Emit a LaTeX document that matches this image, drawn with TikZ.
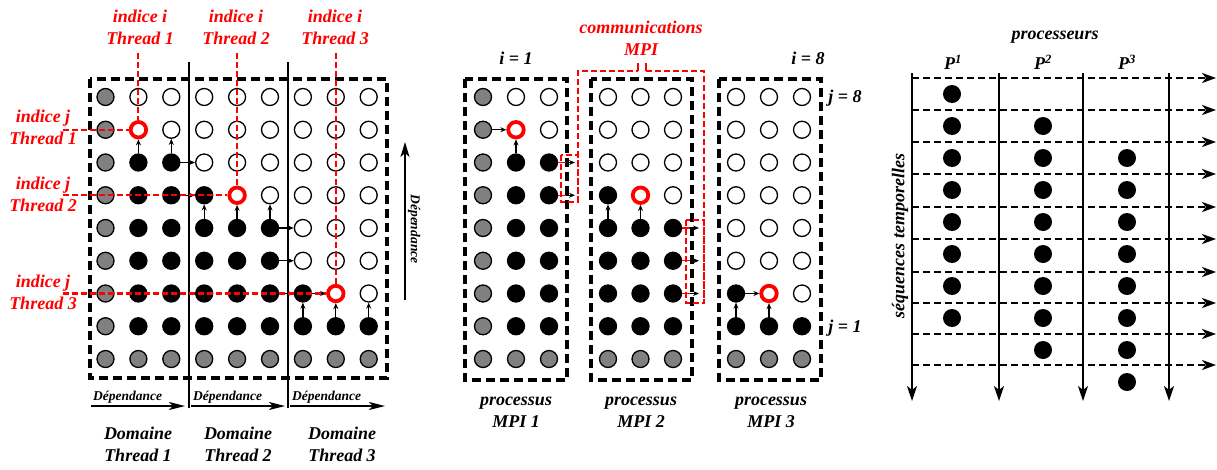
\documentclass[tikz,border=0pt]{standalone}
\usepackage{fontspec}
\setmainfont{Liberation Serif}
\usetikzlibrary{arrows.meta}
\definecolor{myred}{RGB}{255,0,0}
\definecolor{mygray}{RGB}{128,128,128}
\begin{document}
\begin{tikzpicture}[x=1pt,y=-1pt,
 cellbase/.style={circle,inner sep=0pt,minimum size=17pt,line width=1.3pt,draw=black},
 cellw/.style={cellbase,fill=white},
 cellb/.style={cellbase,fill=black},
 cellg/.style={cellbase,fill=mygray},
 cellr/.style={circle,inner sep=0pt,minimum size=15.5pt,line width=3.8pt,draw=myred,fill=white},
 pdot/.style={circle,fill=black,inner sep=0pt,minimum size=18pt},
 lbl/.style={font=\bfseries\itshape\fontsize{18}{22}\selectfont,align=center,inner sep=0pt},
 rlbl/.style={lbl,text=myred},
 smalllbl/.style={font=\bfseries\itshape\fontsize{13.5}{16}\selectfont,inner sep=0pt},
 dep/.style={-{Stealth[length=6pt,width=5pt]},line width=1.3pt},
 bigarrow/.style={-{Stealth[length=15pt,width=9pt,inset=4pt]},line width=1.6pt},
 domainbox/.style={dash pattern=on 9pt off 5pt,line width=4pt},
 reddash/.style={draw=myred,dash pattern=on 6pt off 3pt,line width=2.1pt},
 sepline/.style={line width=1.6pt},
 timeline/.style={dash pattern=on 7pt off 4pt,line width=2pt,-{Stealth[length=14pt,width=10pt,inset=4pt]}},
]
\useasboundingbox (0,0) rectangle (1217,469);

% ================= LEFT: threads =================
\draw[domainbox] (90,79) rectangle (387,378);
\coordinate (s1t) at (189,62); \coordinate (s1b) at (189,408);
\coordinate (s2t) at (288,62); \coordinate (s2b) at (288,408);
\draw[sepline] (s1t) -- (s1b);
\draw[sepline] (s2t) -- (s2b);

\foreach \row [count=\r] in {
 {g,w,w,w,w,w,w,w,w},
 {g,r,w,w,w,w,w,w,w},
 {g,b,b,w,w,w,w,w,w},
 {g,b,b,b,r,w,w,w,w},
 {g,b,b,b,b,b,w,w,w},
 {g,b,b,b,b,b,w,w,w},
 {g,b,b,b,b,b,b,r,w},
 {g,b,b,b,b,b,b,b,b},
 {g,g,g,g,g,g,g,g,g}}
 \foreach \s [count=\c] in \row
   \node[cell\s] (L-\c-\r) at ({105.5+32.9*(\c-1)},{97+32.75*(\r-1)}) {};

% dependency arrows
\draw[dep] (L-2-3) -- (L-2-2);
\draw[dep] (L-3-3) -- (L-3-2);
\draw[dep] (L-3-3) -- (L-4-3);
\draw[dep] (L-3-4) -- (L-4-4);
\draw[dep] (L-4-5) -- (L-4-4);
\draw[dep] (L-5-5) -- (L-5-4);
\draw[dep] (L-6-5) -- (L-6-4);
\draw[dep] (L-6-5) -- (L-7-5);
\draw[dep] (L-6-6) -- (L-7-6);
\draw[dep] (L-6-7) -- (L-7-7);
\draw[dep] (L-7-7) -- (L-8-7);
\draw[dep] (L-7-8) -- (L-7-7);
\draw[dep] (L-8-8) -- (L-8-7);
\draw[dep] (L-9-8) -- (L-9-7);

% labels i
\node[rlbl] (ti1) at (140,27.5) {indice i\\Thread 1};
\node[rlbl] (ti2) at (236,27.5) {indice i\\Thread 2};
\node[rlbl] (ti3) at (335,27.5) {indice i\\Thread 3};
\coordinate (ti1e) at (L-2-2 |- 0,53);
\coordinate (ti2e) at (L-5-4 |- 0,53);
\coordinate (ti3e) at (L-8-7 |- 0,53);
\draw[reddash] (ti1e) -- (L-2-2);
\draw[reddash] (ti2e) -- (L-5-4);
\draw[reddash] (ti3e) -- (L-8-7);

% labels j
\node[rlbl] (tj1) at (43,127) {indice j\\Thread 1};
\node[rlbl] (tj2) at (43,194.5) {indice j\\Thread 2};
\node[rlbl] (tj3) at (43,292.5) {indice j\\Thread 3};
\coordinate (tj1e) at (L-2-2 -| 63,0);
\coordinate (tj2e) at (L-5-4 -| 63,0);
\coordinate (tj3e) at (L-8-7 -| 63,0);
\draw[reddash] (tj1e) -- (L-2-2);
\draw[reddash] (tj2e) -- (L-5-4);
\draw[reddash] (tj3e) -- (L-8-7);

% vertical dependance
\coordinate (dv1) at (405,300); \coordinate (dv2) at (405,142);
\draw[bigarrow] (dv1) -- (dv2);
\node[smalllbl,rotate=-90] (dvl) at (414,229) {Dépendance};

% horizontal dependance
\foreach \xs/\xe [count=\i] in {91/185,191/285,290/385} {
  \coordinate (dh\i s) at (\xs,406); \coordinate (dh\i e) at (\xe,406);
  \draw[-{Stealth[length=16pt,width=8pt,inset=4pt]},line width=1.6pt] (dh\i s) -- (dh\i e);
  \node[smalllbl,anchor=west] (dhl\i) at (\xs+2,397) {Dépendance};
}
\node[lbl] (dom1) at (138,444.5) {Domaine\\Thread 1};
\node[lbl] (dom2) at (238,444.5) {Domaine\\Thread 2};
\node[lbl] (dom3) at (342,444.5) {Domaine\\Thread 3};

% ================= MIDDLE: MPI =================
\draw[domainbox] (465,79) rectangle (567,380);
\draw[domainbox] (591,79) rectangle (692,380);
\draw[domainbox] (719,79) rectangle (821,380);

\foreach \row [count=\r] in {
 {g,w,w},{g,r,w},{g,b,b},{g,b,b},{g,b,b},{g,b,b},{g,b,b},{g,b,b},{g,g,g}}
 \foreach \s [count=\c] in \row
   \node[cell\s] (Ma-\c-\r) at ({483+33*(\c-1)},{97+32.75*(\r-1)}) {};
\foreach \row [count=\r] in {
 {w,w,w},{w,w,w},{w,w,w},{b,r,w},{b,b,b},{b,b,b},{b,b,b},{b,b,b},{g,g,g}}
 \foreach \s [count=\c] in \row
   \node[cell\s] (Mb-\c-\r) at ({608+32.5*(\c-1)},{97+32.75*(\r-1)}) {};
\foreach \row [count=\r] in {
 {w,w,w},{w,w,w},{w,w,w},{w,w,w},{w,w,w},{w,w,w},{b,r,w},{b,b,b},{g,g,g}}
 \foreach \s [count=\c] in \row
   \node[cell\s] (Mc-\c-\r) at ({736+33*(\c-1)},{97+32.75*(\r-1)}) {};

\draw[dep] (Ma-1-2) -- (Ma-2-2);
\draw[dep] (Ma-2-3) -- (Ma-2-2);
\draw[dep] (Mb-1-5) -- (Mb-1-4);
\draw[dep] (Mb-2-5) -- (Mb-2-4);
\draw[dep] (Mc-1-7) -- (Mc-2-7);
\draw[dep] (Mc-1-8) -- (Mc-1-7);
\draw[dep] (Mc-2-8) -- (Mc-2-7);

% MPI communications
\foreach \r in {3,4} {
  \coordinate (ca\r) at (Ma-3-\r -| 566,0);
  \coordinate (cb\r) at (Ma-3-\r -| 575,0);
  \draw[myred,line width=1.4pt] (Ma-3-\r.east) -- (ca\r);
  \draw[dep] (ca\r) -- (cb\r);
}
\foreach \r in {5,6,7} {
  \coordinate (cc\r) at (Mb-3-\r -| 690,0);
  \coordinate (cd\r) at (Mb-3-\r -| 699,0);
  \draw[myred,line width=1.4pt] (Mb-3-\r.east) -- (cc\r);
  \draw[dep] (cc\r) -- (cd\r);
}
\coordinate (k1) at (561,155); \coordinate (k2) at (578,202);
\coordinate (k3) at (578,71);  \coordinate (k4) at (638,71); \coordinate (k5) at (638,63);
\coordinate (k6) at (646,63);  \coordinate (k7) at (646,71); \coordinate (k8) at (704,71);
\coordinate (k9) at (704,303); \coordinate (k10) at (686,220);
\draw[reddash,line width=1.7pt] (k1) rectangle (k2);
\draw[reddash,line width=1.7pt] (k2) -- (k3) -- (k4);
\draw[myred,line width=1.7pt] (k4) -- (k5);
\draw[myred,line width=1.7pt] (k6) -- (k7);
\draw[reddash,line width=1.7pt] (k7) -- (k8) -- (k9);
\draw[reddash,line width=1.7pt] (k10) rectangle (k9);

\node[rlbl] (comm) at (641,38.5) {communications\\MPI};
\node[lbl] (i1) at (516,58) {i = 1};
\node[lbl] (i8) at (808,58) {i = 8};
\node[lbl] (j8) at (845,98) {j = 8};
\node[lbl] (j1) at (845,328) {j = 1};
\node[lbl] (pm1) at (516,412.5) {processus\\MPI 1};
\node[lbl] (pm2) at (641,412.5) {processus\\MPI 2};
\node[lbl] (pm3) at (771,412.5) {processus\\MPI 3};

% ================= RIGHT: processors =================
\foreach \y [count=\i] in {78,110,142,174,207,239,272,303,334,365} {
  \coordinate (hs\i) at (912,\y); \coordinate (he\i) at (1216,\y);
  \draw[timeline] (hs\i) -- (he\i);
}
\foreach \x [count=\i] in {912,999,1083,1169} {
  \coordinate (vt\i) at (\x,73); \coordinate (vb\i) at (\x,401);
  \draw[-{Stealth[length=15pt,width=10pt,inset=4pt]},line width=2pt] (vt\i) -- (vb\i);
}
\foreach \r in {1,...,8} \node[pdot] (P-1-\r) at (952,{94+32*(\r-1)}) {};
\foreach \r in {2,...,9} \node[pdot] (P-2-\r) at (1043,{94+32*(\r-1)}) {};
\foreach \r in {3,...,10} \node[pdot] (P-3-\r) at (1127,{94+32*(\r-1)}) {};

\node[lbl] (procs) at (1055,37) {processeurs};
\node[lbl] (pp1) at (953,62) {P\textsuperscript{1}};
\node[lbl] (pp2) at (1043,62) {P\textsuperscript{2}};
\node[lbl] (pp3) at (1127,62) {P\textsuperscript{3}};
\node[lbl,rotate=90] (seq) at (900,236) {séquences temporelles};
\end{tikzpicture}
\end{document}
